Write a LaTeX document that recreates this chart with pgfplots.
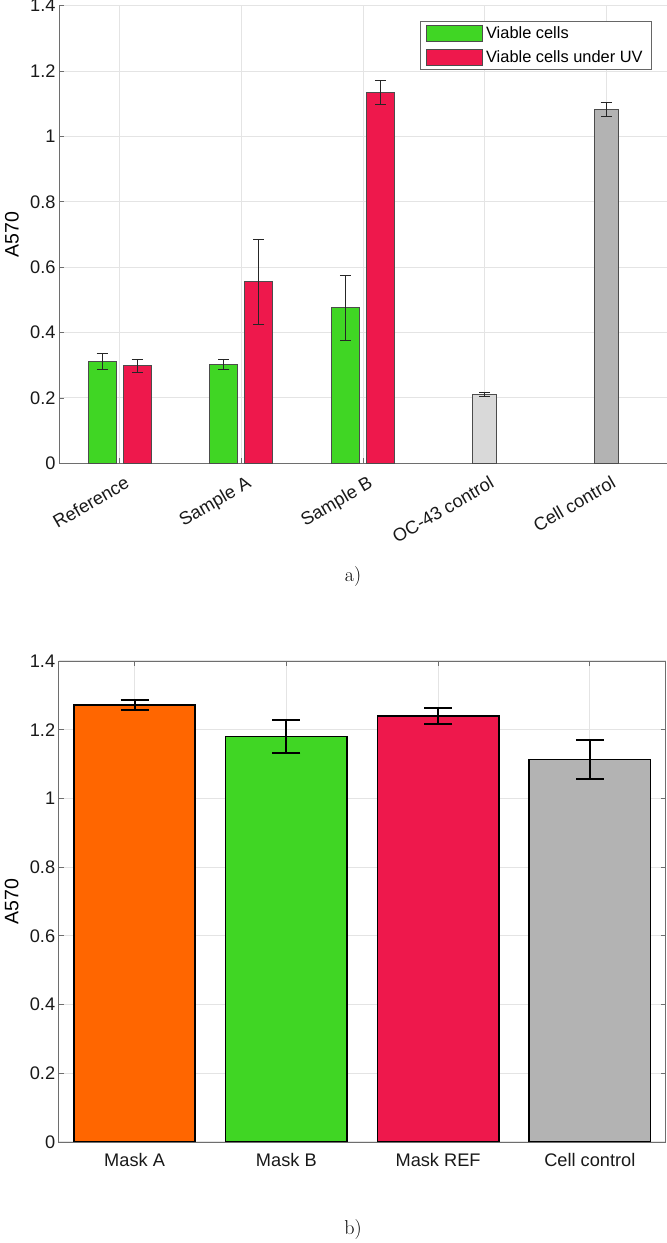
\documentclass[border=0pt]{standalone}
\usepackage{pgfplots}
\pgfplotsset{compat=1.18}
\usepackage{fontspec}
\newfontfamily\hv{Liberation Sans}
\definecolor{cgreen}{RGB}{64,214,36}
\definecolor{cred}{RGB}{238,24,76}
\definecolor{clgray}{RGB}{217,217,217}
\definecolor{cdgray}{RGB}{179,179,179}
\definecolor{corange}{RGB}{255,102,0}
\definecolor{cgrid}{RGB}{228,228,228}
\definecolor{caxis}{RGB}{110,110,110}
\newcommand{\tfont}{\hv\fontsize{18.2}{21}\selectfont}
\newcommand{\lfont}{\hv\fontsize{16.4}{19}\selectfont}
\newcommand{\yfont}{\hv\fontsize{19.5}{23}\selectfont}
\pgfplotsset{
  errA/.style={/pgfplots/error bars/y dir=both, /pgfplots/error bars/y explicit,
    /pgfplots/error bars/error bar style={black!85, line width=0.9pt},
    /pgfplots/error bars/error mark options={black!85, line width=0.9pt, mark size=5.5pt, rotate=90}},
  errB/.style={/pgfplots/error bars/y dir=both, /pgfplots/error bars/y explicit,
    /pgfplots/error bars/error bar style={black, line width=2pt},
    /pgfplots/error bars/error mark options={black, line width=2pt, mark size=14pt, rotate=90}},
}
\begin{document}
\begin{tikzpicture}[x=1pt,y=1pt]
\useasboundingbox (0,0) rectangle (667,1243);
% ---------------- a) ----------------
\begin{axis}[
  at={(59pt,779.7pt)}, anchor=south west,
  scale only axis, width=608pt, height=457.6pt,
  xmin=0.5, xmax=5.5, ymin=0, ymax=1.4,
  axis x line*=bottom, axis y line*=left,
  axis line style={caxis, line width=0.9pt, -},
  xtick={1,2,3,4,5},
  xticklabels={Reference, Sample A, Sample B, OC-43 control, Cell control},
  ytick={0,0.2,0.4,0.6,0.8,1,1.2,1.4},
  tick align=inside, major tick length=5pt, tick style={caxis, line width=0.8pt},
  grid=major, grid style={cgrid, line width=1pt},
  /pgf/number format/assume math mode=true,
  tick label style={font=\tfont, text=black!90},
  xticklabel style={rotate=30, anchor=north east, yshift=-9pt, xshift=1pt},
  ylabel={A570},
  ylabel style={font=\yfont, at={(axis description cs:-0.0773,0.5)}, anchor=center},
  legend style={at={(axis description cs:1,1)}, anchor=north east, xshift=-15pt, yshift=-15pt,
    draw=black!60, line width=0.8pt, font=\lfont, inner xsep=5.5pt, inner ysep=3.5pt, row sep=6.5pt,
    nodes={inner xsep=3.5pt, inner ysep=2pt},
    cells={anchor=west}},
  legend image code/.code={\draw[#1] (0pt,-7.8pt) rectangle (56pt,7.8pt);},
  every axis plot/.append style={ybar, bar shift=0pt, draw=black!70, line width=0.8pt},
]
\addplot[fill=cgreen, bar width=0.23, errA]
  coordinates {(0.855,0.312) +- (0,0.025) (1.855,0.302) +- (0,0.016) (2.855,0.476) +- (0,0.100)};
\addlegendentry{Viable cells}
\addplot[fill=cred, bar width=0.23, errA]
  coordinates {(1.143,0.299) +- (0,0.020) (2.143,0.555) +- (0,0.131) (3.143,1.134) +- (0,0.036)};
\addlegendentry{Viable cells under UV}
\addplot[fill=clgray, bar width=0.2, forget plot, errA]
  coordinates {(4,0.210) +- (0,0.006)};
\addplot[fill=cdgray, bar width=0.2, forget plot, errA]
  coordinates {(5,1.082) +- (0,0.022)};
\end{axis}
\node[font=\fontsize{20}{24}\selectfont] at (353,666.3) {a)};
% ---------------- b) ----------------
\begin{axis}[
  at={(58.7pt,101pt)}, anchor=south west,
  scale only axis, width=607pt, height=481pt,
  xmin=0.5, xmax=4.5, ymin=0, ymax=1.4,
  axis line style={caxis, line width=0.9pt},
  xtick={1,2,3,4},
  xticklabels={Mask A, Mask B, Mask REF, Cell control},
  ytick={0,0.2,0.4,0.6,0.8,1,1.2,1.4},
  tick align=inside, major tick length=5pt, tick style={caxis, line width=0.8pt},
  grid=major, grid style={cgrid, line width=1pt},
  /pgf/number format/assume math mode=true,
  tick label style={font=\tfont, text=black!90},
  xticklabel style={yshift=-7.5pt},
  ylabel={A570},
  ylabel style={font=\yfont, at={(axis description cs:-0.0774,0.5)}, anchor=center},
  every axis plot/.append style={ybar, bar shift=0pt, bar width=0.8, draw=black, line width=1.6pt},
]
\addplot[fill=corange, errB] coordinates {(1,1.272) +- (0,0.015)};
\addplot[fill=cgreen, errB] coordinates {(2,1.180) +- (0,0.049)};
\addplot[fill=cred, errB] coordinates {(3,1.240) +- (0,0.022)};
\addplot[fill=cdgray, errB] coordinates {(4,1.113) +- (0,0.057)};
\end{axis}
\node[font=\fontsize{20}{24}\selectfont] at (353,13) {b)};
\end{tikzpicture}
\end{document}
